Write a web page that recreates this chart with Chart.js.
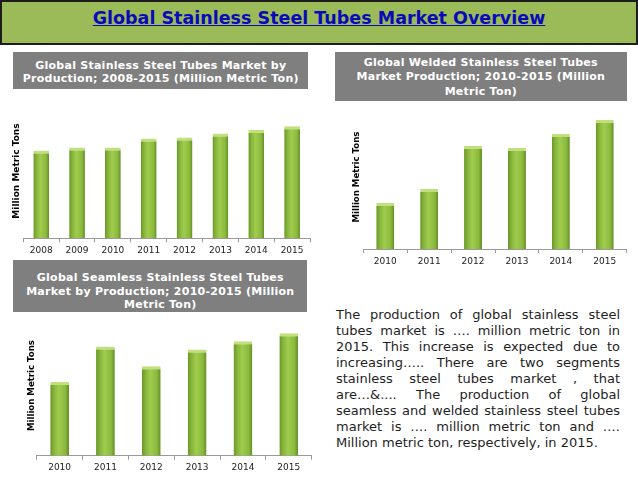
<!DOCTYPE html>
<html>
<head>
<meta charset="utf-8">
<script src="https://cdn.jsdelivr.net/npm/chart.js@4.4.0/dist/chart.umd.min.js"></script>
<style>
html,body{margin:0;padding:0;background:#fff;}
body{width:638px;height:479px;position:relative;overflow:hidden;font-family:"DejaVu Sans",Verdana,sans-serif;}
.header{position:absolute;left:0;top:0;width:638px;height:45px;box-sizing:border-box;background:#9BBB59;border:2px solid #1c1c1c;}
.header span{position:absolute;left:0;right:0;top:6px;text-align:center;font-weight:bold;font-size:17.5px;line-height:20px;color:#0a0ab8;text-decoration:underline;}
.box{position:absolute;background:#7f7f7f;color:#fff;font-weight:bold;font-size:11px;letter-spacing:0.25px;text-align:center;box-sizing:border-box;}
.cw{position:absolute;}
.cw canvas{display:block;}
.para{position:absolute;left:336px;top:307px;width:284px;font-size:13px;line-height:16px;color:#1e1e1e;}
.para div{text-align:justify;text-align-last:justify;}
.para div.last{text-align:left;text-align-last:left;}
</style>
</head>
<body>
<div class="header"><span>Global Stainless Steel Tubes Market Overview</span></div>

<div class="cw" style="left:0px;top:100px;width:320px;height:162px;"><canvas id="c1"></canvas></div>
<div class="cw" style="left:330px;top:100px;width:308px;height:172px;"><canvas id="c2"></canvas></div>
<div class="cw" style="left:0px;top:312px;width:320px;height:167px;"><canvas id="c3"></canvas></div>

<div class="box" style="left:13.3px;top:52.3px;width:295px;height:37px;padding-top:6.6px;line-height:13.4px;">Global Stainless Steel Tubes Market by<br>Production; 2008-2015 (Million Metric Ton)</div>
<div class="box" style="left:335px;top:51.7px;width:291.7px;height:49.3px;padding-top:4.5px;line-height:14.2px;">Global Welded Stainless Steel Tubes<br>Market Production; 2010-2015 (Million<br>Metric Ton)</div>
<div class="box" style="left:13.3px;top:260px;width:294px;height:52.3px;padding-top:10.9px;line-height:13.65px;">Global Seamless Stainless Steel Tubes<br>Market by Production; 2010-2015 (Million<br>Metric Ton)</div>

<div class="para">
<div>The production of global stainless steel</div>
<div>tubes market is …. million metric ton in</div>
<div>2015. This increase is expected due to</div>
<div>increasing….. There are two segments</div>
<div>stainless steel tubes market , that</div>
<div>are…&amp;.... The production of global</div>
<div>seamless and welded stainless steel tubes</div>
<div>market is …. million metric ton and ….</div>
<div class="last">Million metric ton, respectively, in 2015.</div>
</div>

<script>
// ---- Data ----
const productionYears = ['2008', '2009', '2010', '2011', '2012', '2013', '2014', '2015'];
const productionValues = [8.8, 9.1, 9.1, 10.0, 10.1, 10.5, 10.85, 11.25];

const weldedYears = ['2010', '2011', '2012', '2013', '2014', '2015'];
const weldedValues = [2.3, 3.0, 5.15, 5.05, 5.75, 6.45];

const seamlessYears = ['2010', '2011', '2012', '2013', '2014', '2015'];
const seamlessValues = [3.67, 5.45, 4.46, 5.3, 5.7, 6.1];

const yAxisTitle = 'Million Metric Tons';

// ---- Helpers ----
function barFill(barPct) {
  return function (ctx) {
    const chart = ctx.chart;
    const xs = chart.scales && chart.scales.x;
    if (ctx.type !== 'data' || !chart.chartArea || !xs) return '#8DBB3F';
    const n = chart.data.labels.length;
    const cx = xs.getPixelForValue(ctx.dataIndex);
    const w = (xs.width / n) * barPct;
    const g = chart.ctx.createLinearGradient(cx - w / 2, 0, cx + w / 2, 0);
    g.addColorStop(0, '#6A9528');
    g.addColorStop(0.2, '#87B53B');
    g.addColorStop(0.45, '#A0CC4E');
    g.addColorStop(0.8, '#8CBA3E');
    g.addColorStop(1, '#638D24');
    return g;
  };
}

function makeChart(id, labels, values, yMax, barPct, pad, titleFont, titlePad) {
  return new Chart(document.getElementById(id), {
    type: 'bar',
    data: {
      labels: labels,
      datasets: [{
        data: values,
        backgroundColor: barFill(barPct),
        borderColor: '#C2DF7E',
        borderWidth: { top: 3, left: 0, right: 0, bottom: 0 },
        borderSkipped: false,
        categoryPercentage: 1.0,
        barPercentage: barPct
      }]
    },
    options: {
      responsive: true,
      maintainAspectRatio: false,
      animation: false,
      layout: { padding: pad },
      plugins: { legend: { display: false }, tooltip: { enabled: false } },
      scales: {
        x: {
          grid: { display: true, drawOnChartArea: false, drawTicks: true, tickLength: 4, color: '#9a9a9a', offset: true },
          border: { display: true, color: '#9a9a9a', width: 1 },
          ticks: { color: '#222', font: { family: 'DejaVu Sans', size: 9 }, padding: 3, maxRotation: 0, autoSkip: false }
        },
        y: {
          min: 0,
          max: yMax,
          ticks: { display: false },
          grid: { display: false, drawTicks: false },
          border: { display: false },
          title: {
            display: true,
            text: yAxisTitle,
            color: '#000',
            font: { family: 'DejaVu Sans', size: titleFont, weight: 'bold' },
            padding: titlePad
          }
        }
      }
    }
  });
}

makeChart('c1', productionYears, productionValues, 13.5, 0.44,
  { left: 7.3, right: 10, top: 3.7, bottom: 2.9 }, 9, { top: 4, bottom: 1.2 });
makeChart('c2', weldedYears, weldedValues, 7.2, 0.41,
  { left: 17.54, right: 11.3, top: 5, bottom: 2.2 }, 8.6, { top: 4, bottom: 1.44 });
makeChart('c3', seamlessYears, seamlessValues, 7.0, 0.41,
  { left: 22.38, right: 8.3, top: 3.3, bottom: 2.5 }, 8.6, { top: 4, bottom: 0 });
</script>
</body>
</html>
